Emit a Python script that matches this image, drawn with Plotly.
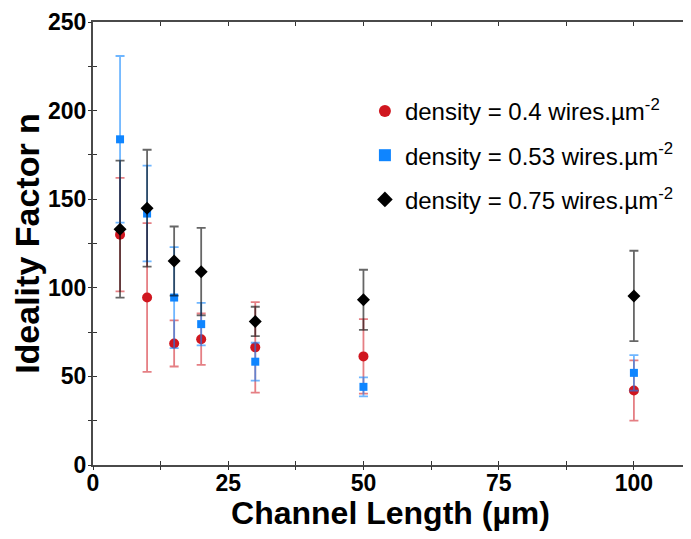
import plotly.graph_objects as go

# Data
channel_length = [5, 10, 15, 20, 30, 50, 100]

n_04 = [130, 94.5, 68.6, 71, 66.4, 61.3, 42]
err_04 = [32, 42, 13, 14.5, 25.5, 21, 17]

n_053 = [183.8, 141.9, 94.5, 79.5, 58.3, 44.1, 52]
err_053 = [47, 27, 28.5, 12, 10.7, 5.4, 10]

n_075 = [133.1, 144.9, 115.1, 109.1, 81, 93.2, 95.4]
err_075 = [38.7, 33, 19.5, 24.7, 8.3, 17, 25.5]

labels = [
    "density = 0.4 wires.µm<sup>-2</sup>",
    "density = 0.53 wires.µm<sup>-2</sup>",
    "density = 0.75 wires.µm<sup>-2</sup>",
]

FONT = "Liberation Sans, Arial, sans-serif"

fig = go.Figure()

series = [
    (n_04, err_04, "circle", 10, "#d0161f", "rgba(208,22,31,0.55)", labels[0]),
    (n_053, err_053, "square", 8, "#0f85ff", "rgba(15,133,255,0.6)", labels[1]),
    (n_075, err_075, "diamond", 10, "#000000", "rgba(0,0,0,0.6)", labels[2]),
]
for i, (yv, ev, sym, sz, col, ecol, name) in enumerate(series):
    fig.add_trace(go.Scatter(
        x=channel_length, y=yv, mode="markers", name=name,
        legendgroup=f"g{i}",
        marker=dict(symbol=sym, size=sz, color=col, line=dict(width=0)),
        error_y=dict(type="data", array=ev, visible=True, color=ecol,
                     thickness=1.8, width=4.5),
    ))

# invisible helper trace for the overlay axes (outside half of crossing ticks)
fig.add_trace(go.Scatter(x=[None], y=[None], xaxis="x2", yaxis="y2",
                         showlegend=False, hoverinfo="skip"))

tickfont = dict(family=FONT, size=23, color="black", weight="bold")

fig.update_layout(
    width=683, height=523,
    paper_bgcolor="white", plot_bgcolor="white",
    margin=dict(l=85, r=3, t=14, b=66),
    showlegend=True,
    legend=dict(
        x=0.457, y=0.849, xanchor="left", yanchor="top",
        font=dict(family=FONT, size=24, color="black"),
        bgcolor="rgba(0,0,0,0)",
        traceorder="grouped", tracegroupgap=10,
        itemsizing="constant",
    ),
    xaxis=dict(
        range=[0, 110], tickvals=[0, 25, 50, 75, 100],
        ticks="inside", ticklen=4, tickwidth=1.2, tickcolor="#333",
        minor=dict(dtick=12.5, ticks="inside", ticklen=4, tickwidth=1.2, tickcolor="#333"),
        showline=True, linecolor="#4a4a4a", linewidth=2, mirror="allticks",
        showgrid=False, zeroline=False,
        tickfont=tickfont, ticklabelstandoff=-4,
        title=dict(text="Channel Length (µm)", standoff=18,
                   font=dict(family=FONT, size=32, color="black", weight="bold")),
        automargin=False,
    ),
    yaxis=dict(
        range=[0, 250], tickvals=[0, 50, 100, 150, 200, 250],
        ticks="inside", ticklen=4, tickwidth=1.2, tickcolor="#333",
        minor=dict(dtick=25, ticks="inside", ticklen=4, tickwidth=1.2, tickcolor="#333"),
        showline=True, linecolor="#4a4a4a", linewidth=2, mirror="allticks",
        showgrid=False, zeroline=False,
        tickfont=tickfont,
        title=dict(text="Ideality Factor n", standoff=0,
                   font=dict(family=FONT, size=34, color="black", weight="bold")),
        automargin=False,
    ),
    xaxis2=dict(
        overlaying="x", anchor="y", range=[0, 110], dtick=12.5, tick0=0,
        ticks="outside", ticklen=4, tickwidth=1.2, tickcolor="#333",
        showticklabels=False, showline=False, showgrid=False, zeroline=False,
    ),
    yaxis2=dict(
        overlaying="y", anchor="x", side="left", range=[0, 250], dtick=25, tick0=0,
        ticks="outside", ticklen=4, tickwidth=1.2, tickcolor="#333",
        showticklabels=False, showline=False, showgrid=False, zeroline=False,
    ),
)

fig.write_html("out.html")
